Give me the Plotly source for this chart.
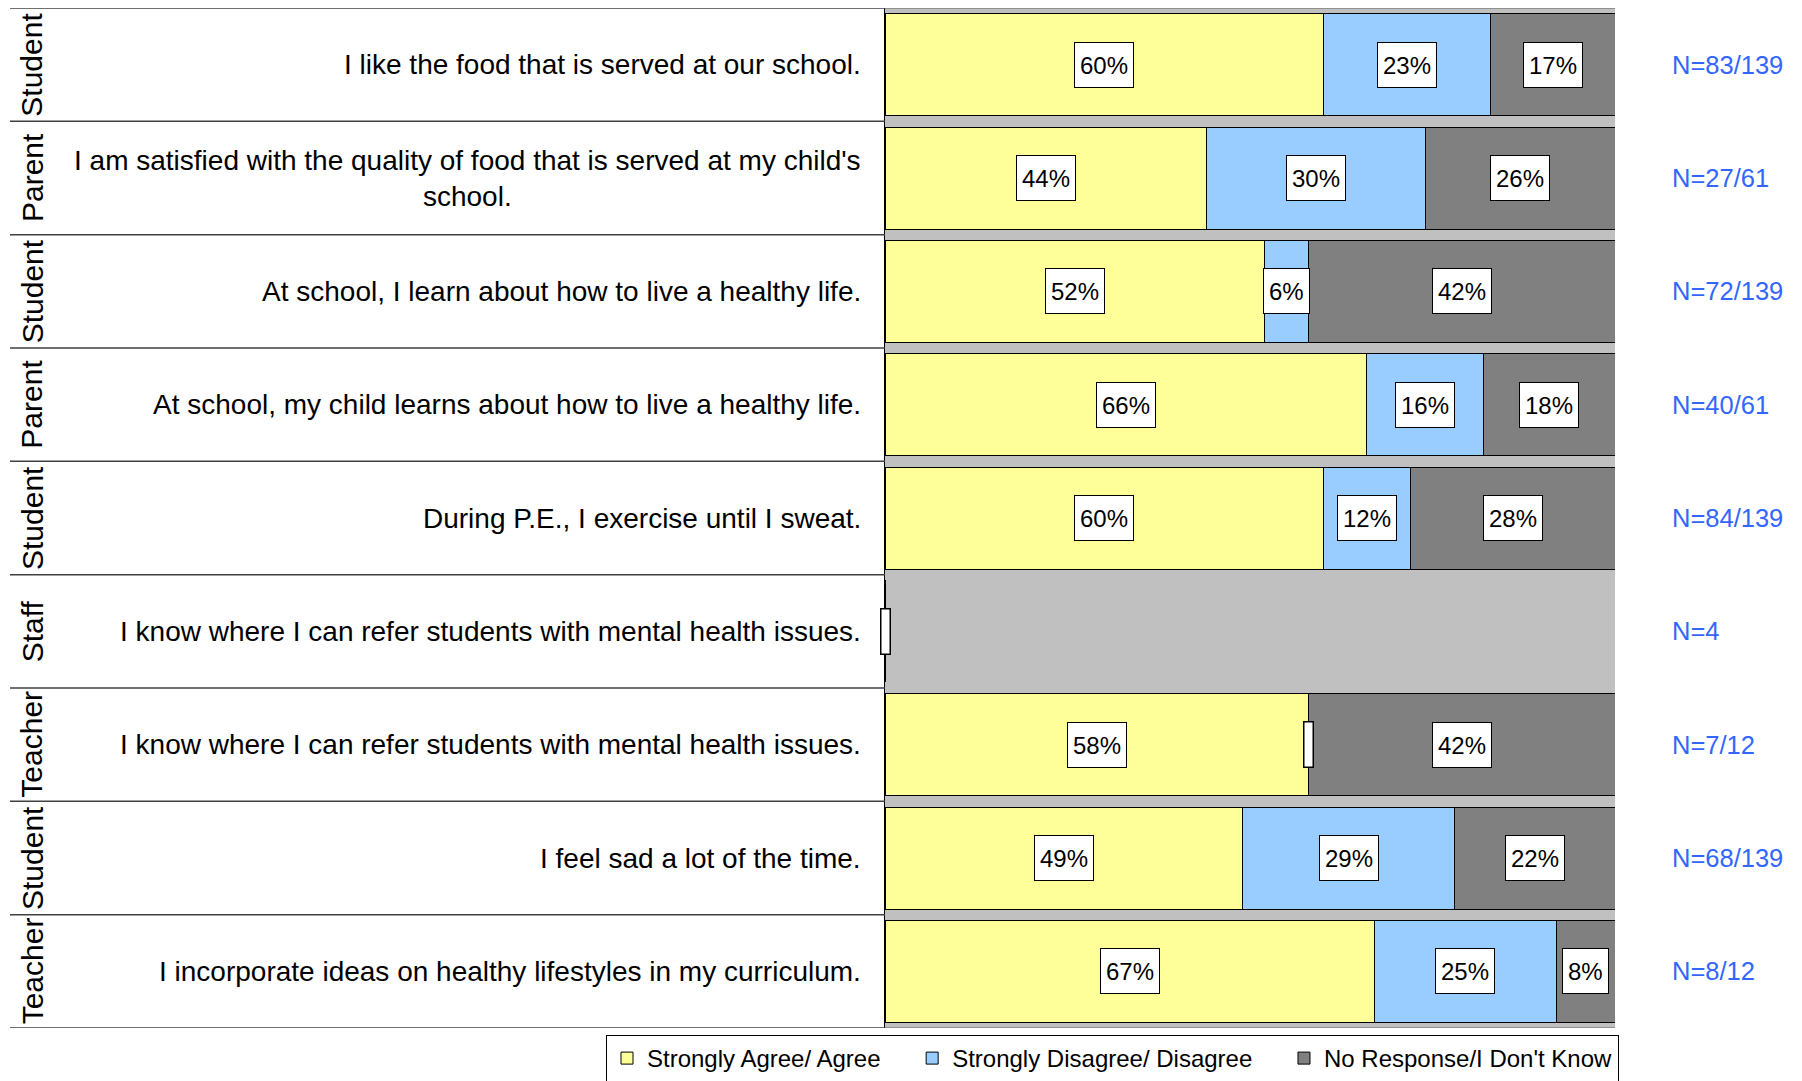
import plotly.graph_objects as go

groups = ["Student", "Parent", "Student", "Parent", "Student", "Staff", "Teacher", "Student", "Teacher"]
questions = [
    "I like the food that is served at our school.",
    "I am satisfied with the quality of food that is served at my child's<br>school.",
    "At school, I learn about how to live a healthy life.",
    "At school, my child learns about how to live a healthy life.",
    "During P.E., I exercise until I sweat.",
    "I know where I can refer students with mental health issues.",
    "I know where I can refer students with mental health issues.",
    "I feel sad a lot of the time.",
    "I incorporate ideas on healthy lifestyles in my curriculum.",
]
agree = [60, 44, 52, 66, 60, 0, 58, 49, 67]
disagree = [23, 30, 6, 16, 12, 0, 0, 29, 25]
no_response = [17, 26, 42, 18, 28, 0, 42, 22, 8]
n_labels = ["N=83/139", "N=27/61", "N=72/139", "N=40/61", "N=84/139", "N=4", "N=7/12", "N=68/139", "N=8/12"]

series_names = ["Strongly Agree/ Agree", "Strongly Disagree/ Disagree", "No Response/I Don't Know"]
series_colors = ["#FFFF99", "#99CCFF", "#808080"]
series_values = [agree, disagree, no_response]

FONT = "Arial, 'Liberation Sans', sans-serif"
OFF = 8  # page body margin
W, H = 1802 - OFF, 1081 - OFF
# plot area in window pixels, converted to figure pixels
L, R, T, B = 885 - OFF, 1615 - OFF, 8 - OFF, 1028 - OFF


def px_to_paper_x(win_px):
    return (win_px - OFF - L) / (R - L)


rows = list(range(len(groups)))

fig = go.Figure()
pad_names = ["\u00a0" * 4, "\u00a0" * 4, ""]
for name, color, vals, pn in zip(series_names, series_colors, series_values, pad_names):
    fig.add_trace(go.Bar(
        y=rows, x=vals, orientation="h", name=name + pn,
        marker=dict(color=color, line=dict(color="black", width=1)),
        hoverinfo="skip",
    ))

annotations = []
for i in rows:
    cum = 0
    for vals in series_values:
        v = vals[i]
        if v > 0:
            annotations.append(dict(
                x=cum + v / 2, y=i, xref="x", yref="y", text=f"{v}%",
                showarrow=False, font=dict(family=FONT, size=24, color="black"),
                bgcolor="white", bordercolor="black", borderwidth=1, borderpad=5, height=34,
            ))
        else:
            annotations.append(dict(
                x=cum, y=i, xref="x", yref="y", text=" ",
                showarrow=False, font=dict(family=FONT, size=10, color="black"),
                bgcolor="white", bordercolor="black", borderwidth=1.5, borderpad=1,
                width=6, height=42,
            ))
        cum += v

for i in rows:
    annotations.append(dict(
        x=px_to_paper_x(863), y=i, xref="paper", yref="y", text=questions[i],
        xanchor="right", yanchor="middle", align="center", showarrow=False,
        font=dict(family=FONT, size=28, color="black"),
    ))
    annotations.append(dict(
        x=px_to_paper_x(32), y=i, xref="paper", yref="y", text=groups[i],
        textangle=-90, xanchor="center", yanchor="middle", showarrow=False,
        font=dict(family=FONT, size=30, color="black"),
    ))
    annotations.append(dict(
        x=px_to_paper_x(1670), y=i, xref="paper", yref="y", text=n_labels[i],
        xanchor="left", yanchor="middle", showarrow=False,
        font=dict(family=FONT, size=25.5, color="#3366FF"),
    ))

shapes = []
for k in range(len(groups) + 1):
    yb = k - 0.5
    shapes.append(dict(
        type="line", xref="paper", yref="y", x0=px_to_paper_x(10), x1=0, y0=yb, y1=yb,
        line=dict(color="#404040", width=1.5),
    ))
shapes.append(dict(type="line", xref="paper", yref="y", x0=0, x1=1, y0=-0.5, y1=-0.5,
                   line=dict(color="#909090", width=2)))
shapes.append(dict(type="line", xref="paper", yref="y", x0=0, x1=1, y0=len(groups) - 0.5, y1=len(groups) - 0.5,
                   line=dict(color="#909090", width=2)))

legend_top_fig = 1035 - OFF
fig.update_layout(
    width=W, height=H,
    margin=dict(l=L, r=W - R, t=T, b=H - B, pad=0, autoexpand=False),
    barmode="stack", bargap=0.1,
    plot_bgcolor="#C0C0C0", paper_bgcolor="white",
    font=dict(family=FONT, color="black"),
    xaxis=dict(range=[0, 100], visible=False, fixedrange=True),
    yaxis=dict(range=[len(groups) - 0.5, -0.5], showticklabels=False, showgrid=False,
               zeroline=False, showline=True, linecolor="black", linewidth=1, ticks=""),
    showlegend=True,
    legend=dict(
        orientation="h", x=px_to_paper_x(606), xanchor="left",
        y=-(legend_top_fig - B) / (B - T), yanchor="top",
        bordercolor="black", borderwidth=1, bgcolor="white",
        font=dict(family=FONT, size=24, color="black"), traceorder="normal",
    ),
    annotations=annotations, shapes=shapes,
)

fig.write_html("out.html")
